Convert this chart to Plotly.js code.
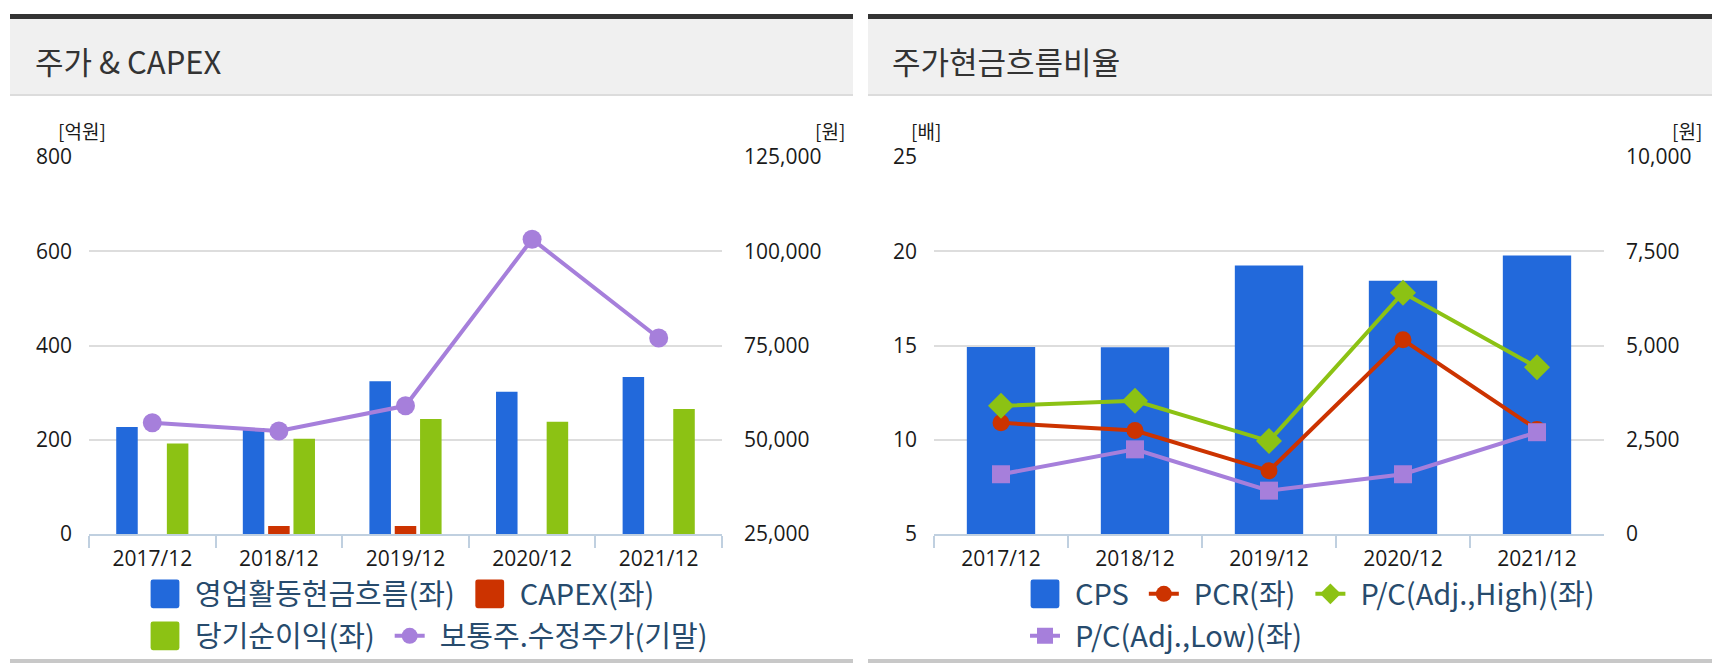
<!DOCTYPE html>
<html>
<head>
<meta charset="utf-8">
<script src="https://cdn.plot.ly/plotly-3.0.1.min.js"></script>
<style>
  body { margin: 0; background: #fff; }
  #chart { width: 1729px; height: 670px; }
</style>
</head>
<body>
<div id="chart"></div>
<script>
const years = ['2017/12', '2018/12', '2019/12', '2020/12', '2021/12'];

// 주가 & CAPEX  (bars: 억원, line: 원)
const opCashFlow = [227, 225, 324, 302, 333];
const capex = [0, 17, 17, 0, 0];
const netIncome = [192, 202, 244, 238, 265];
const adjPrice = [54500, 52300, 59000, 103200, 77000];

// 주가현금흐름비율  (bars: 원, lines: 배)
const cps = [4960, 4955, 7120, 6720, 7385];
const pcr = [10.9, 10.49, 8.35, 15.3, 10.55];
const pcHigh = [11.8, 12.07, 9.93, 17.8, 13.84];
const pcLow = [8.17, 9.49, 7.3, 8.17, 10.4];

const BLUE = '#2269db';
const RED = '#cc3300';
const GREEN = '#8cc214';
const PURPLE = '#a67fdb';
const FONT = "'Noto Sans CJK KR', 'Noto Sans', sans-serif";
const NUM_FONT = "'Open Sans', 'Noto Sans CJK KR', sans-serif";

// page is 1729 x 670 with no margins, so paper coords map straight to pixels
const W = 1729, H = 670;
const fx = (px) => px / W;
const fy = (py) => 1 - py / H;

const traces = [
  {
    type: 'bar', name: '영업활동현금흐름(좌)', x: years, y: opCashFlow,
    xaxis: 'x', yaxis: 'y', marker: {color: BLUE}, legend: 'legend'
  },
  {
    type: 'bar', name: 'CAPEX(좌)', x: years, y: capex,
    xaxis: 'x', yaxis: 'y', marker: {color: RED}, legend: 'legend'
  },
  {
    type: 'bar', name: '당기순이익(좌)', x: years, y: netIncome,
    xaxis: 'x', yaxis: 'y', marker: {color: GREEN}, legend: 'legend2'
  },
  {
    type: 'scatter', mode: 'lines+markers', name: '보통주.수정주가(기말)', x: years, y: adjPrice,
    xaxis: 'x', yaxis: 'y2', line: {color: PURPLE, width: 4},
    marker: {color: PURPLE, size: 19}, legend: 'legend2'
  },
  {
    type: 'bar', name: 'CPS', x: years, y: cps,
    xaxis: 'x2', yaxis: 'y3', marker: {color: BLUE}, legend: 'legend3'
  },
  {
    type: 'scatter', mode: 'lines+markers', name: 'PCR(좌)', x: years, y: pcr,
    xaxis: 'x2', yaxis: 'y4', line: {color: RED, width: 4},
    marker: {color: RED, size: 17, symbol: 'circle'}, legend: 'legend3'
  },
  {
    type: 'scatter', mode: 'lines+markers', name: 'P/C(Adj.,High)(좌)', x: years, y: pcHigh,
    xaxis: 'x2', yaxis: 'y4', line: {color: GREEN, width: 4},
    marker: {color: GREEN, size: 20, symbol: 'diamond'}, legend: 'legend3'
  },
  {
    type: 'scatter', mode: 'lines+markers', name: 'P/C(Adj.,Low)(좌)', x: years, y: pcLow,
    xaxis: 'x2', yaxis: 'y4', line: {color: PURPLE, width: 4},
    marker: {color: PURPLE, size: 18, symbol: 'square'}, legend: 'legend4'
  }
];

const tickFont = {family: NUM_FONT, size: 21, color: '#1a1a1a'};

function catAxis(x0, x1, anchor) {
  return {
    domain: [fx(x0), fx(x1)], anchor: anchor, type: 'category',
    showline: true, linecolor: '#c0d0e0', linewidth: 2,
    ticks: 'outside', tickson: 'boundaries', ticklen: 12, tickwidth: 2, tickcolor: '#c0d0e0',
    ticklabelstandoff: 5,
    showgrid: false, zeroline: false, tickfont: tickFont, fixedrange: true
  };
}

function valAxis(extra) {
  return Object.assign({
    domain: [fy(534), fy(157)], showline: false, zeroline: false, ticks: '',
    tickfont: tickFont, fixedrange: true, ticklabelstandoff: 16
  }, extra);
}

function panelShapes(x0, x1) {
  const r = (y0, y1, color) => ({
    type: 'rect', xref: 'paper', yref: 'paper', layer: 'below',
    x0: fx(x0), x1: fx(x1), y0: fy(y1), y1: fy(y0),
    fillcolor: color, line: {width: 0}
  });
  return [r(14, 19, '#333333'), r(19, 94, '#f0f0f0'), r(94, 96, '#dcdcdc'), r(659, 663, '#c8c8c8')];
}

function note(text, x, y, size, anchor, color) {
  return {
    text: text, xref: 'paper', yref: 'paper', x: fx(x), y: fy(y),
    xanchor: anchor, yanchor: 'middle', showarrow: false,
    font: {family: FONT, size: size, color: color}
  };
}

const legendBase = {
  orientation: 'h', xanchor: 'left', yanchor: 'middle', itemwidth: 50,
  font: {family: FONT, size: 29, color: '#274b6d'},
  bgcolor: 'rgba(0,0,0,0)', traceorder: 'normal'
};

const layout = {
  width: W, height: H,
  margin: {l: 0, r: 0, t: 0, b: 0},
  paper_bgcolor: '#fff', plot_bgcolor: 'rgba(0,0,0,0)',
  font: {family: FONT},
  barmode: 'group', bargap: 0.4, bargroupgap: 0.15,
  hovermode: false,
  xaxis: catAxis(89, 722, 'y'),
  yaxis: valAxis({anchor: 'x', range: [0, 800], tick0: 0, dtick: 200,
    showgrid: true, gridcolor: '#dddddd', gridwidth: 2}),
  yaxis2: valAxis({anchor: 'x', overlaying: 'y', side: 'right', range: [25000, 125000],
    tick0: 25000, dtick: 25000, tickformat: ',d', showgrid: false, ticklabelstandoff: 21}),
  xaxis2: catAxis(934, 1604, 'y3'),
  yaxis3: valAxis({anchor: 'x2', side: 'right', range: [0, 10000], tick0: 0, dtick: 2500,
    tickformat: ',d', showgrid: true, gridcolor: '#dddddd', gridwidth: 2, ticklabelstandoff: 21}),
  yaxis4: valAxis({anchor: 'x2', overlaying: 'y3', side: 'left', range: [5, 25],
    tick0: 5, dtick: 5, showgrid: false}),
  legend: Object.assign({}, legendBase, {x: fx(135), y: fy(594)}),
  legend2: Object.assign({}, legendBase, {x: fx(135), y: fy(636)}),
  legend3: Object.assign({}, legendBase, {x: fx(1015), y: fy(594)}),
  legend4: Object.assign({}, legendBase, {x: fx(1015), y: fy(636)}),
  shapes: panelShapes(10, 853).concat(panelShapes(868, 1712)),
  annotations: [
    note('주가 & CAPEX', 33, 60, 31, 'left', '#333'),
    note('주가현금흐름비율', 890, 60, 31, 'left', '#333'),
    note('[억원]', 82, 131, 19, 'center', '#1a1a1a'),
    note('[원]', 830, 131, 19, 'center', '#1a1a1a'),
    note('[배]', 926, 131, 19, 'center', '#1a1a1a'),
    note('[원]', 1687, 131, 19, 'center', '#1a1a1a')
  ]
};

// bigger rounded square swatches like the original, and shorter line swatches.
// legend item centre sits at (itemwidth + 10) / 2 = 30
function fixLegendSymbols() {
  const gd = document.getElementById('chart');
  gd.querySelectorAll('g.legendpoints > path').forEach(function (p) {
    if (p.getAttribute('class') === 'scatterpts') return;
    p.setAttribute('d', 'M-5,-6H5A1,1 0 0 1 6,-5V5A1,1 0 0 1 5,6H-5A1,1 0 0 1 -6,5V-5A1,1 0 0 1 -5,-6Z');
    p.setAttribute('transform', 'translate(30,0) scale(2.4)');
  });
  gd.querySelectorAll('g.legendlines path').forEach(function (p) {
    p.setAttribute('transform', 'translate(30,0) scale(0.6,1) translate(-30,0)');
  });
}

Plotly.newPlot('chart', traces, layout, {staticPlot: true}).then(function (gd) {
  gd.on('plotly_afterplot', fixLegendSymbols);
  fixLegendSymbols();
  setTimeout(fixLegendSymbols, 50);
});
</script>
</body>
</html>
